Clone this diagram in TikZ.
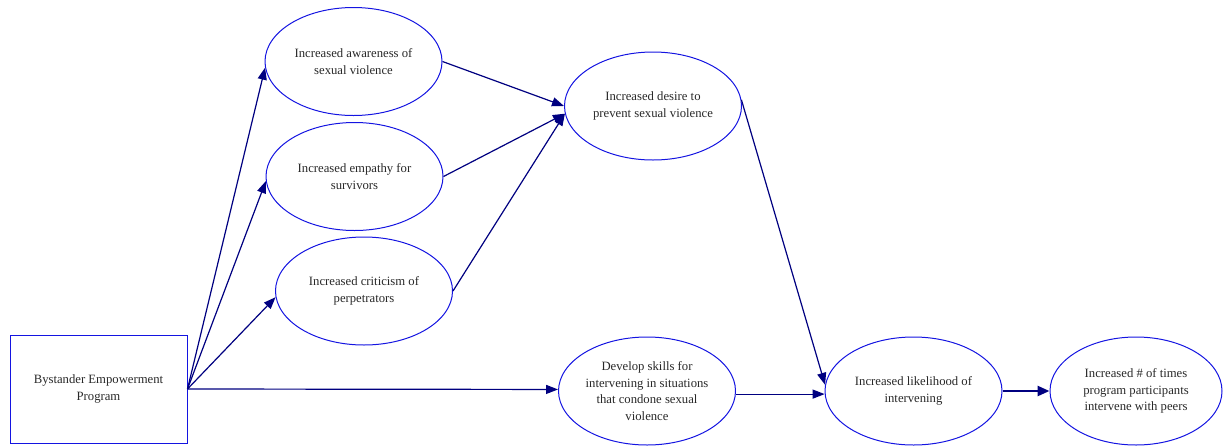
\documentclass[tikz,border=0pt]{standalone}
\usepackage{fontspec}
\setmainfont{Liberation Serif}
\usetikzlibrary{shapes.geometric,arrows.meta}
\definecolor{edgeblue}{RGB}{20,20,225}
\definecolor{arrownavy}{RGB}{0,0,128}
\definecolor{txt}{RGB}{40,40,40}
\tikzset{
  oval/.style={ellipse,draw=edgeblue,line width=1pt,inner sep=0pt,
    minimum width=177pt,minimum height=108pt,align=center,text=txt,
    font=\fontsize{12.7}{16.7}\selectfont},
  prog/.style={rectangle,draw=edgeblue,line width=1pt,inner sep=0pt,
    minimum width=177pt,minimum height=108pt,align=center,text=txt,
    font=\fontsize{12.7}{16.7}\selectfont},
  link/.style={draw=arrownavy,line width=1.2pt,-{Triangle[length=12pt,width=9pt]}},
  thicklink/.style={draw=arrownavy,line width=2.5pt,-{Triangle[length=12pt,width=10pt]}}
}
\begin{document}
\begin{tikzpicture}[x=1pt,y=-1pt]
\useasboundingbox (0,0) rectangle (1224,445);
\node[prog] (box) at (98.5,389) {Bystander Empowerment\\Program};
\node[oval] (aw) at (353.5,61.5) {Increased awareness of\\sexual violence};
\node[oval] (em) at (354.5,176.5) {Increased empathy for\\survivors};
\node[oval] (cr) at (364,291) {Increased criticism of\\perpetrators};
\node[oval] (de) at (653,106) {Increased desire to\\prevent sexual violence};
\node[oval] (sk) at (647,391) {Develop skills for\\intervening in situations\\that condone sexual\\violence};
\node[oval] (li) at (913.5,391) {Increased likelihood of\\intervening};
\node[oval,minimum width=172pt] (fi) at (1136,391) {Increased \# of times\\program participants\\intervene with peers};
\draw[link] (box.east) -- (aw.184);
\draw[link] (box.east) -- (em.183);
\draw[link] (box.east) -- (cr.184);
\draw[link] (box.east) -- (sk.179);
\draw[link] (aw.east) -- (de.west);
\draw[link] (em.east) -- (de.185);
\draw[link] (cr.east) -- (de.185);
\draw[link] (de.4) -- (li.176);
\draw[link] (sk.358) -- (li.182);
\draw[thicklink] (li.east) -- (fi.west);
\end{tikzpicture}
\end{document}
